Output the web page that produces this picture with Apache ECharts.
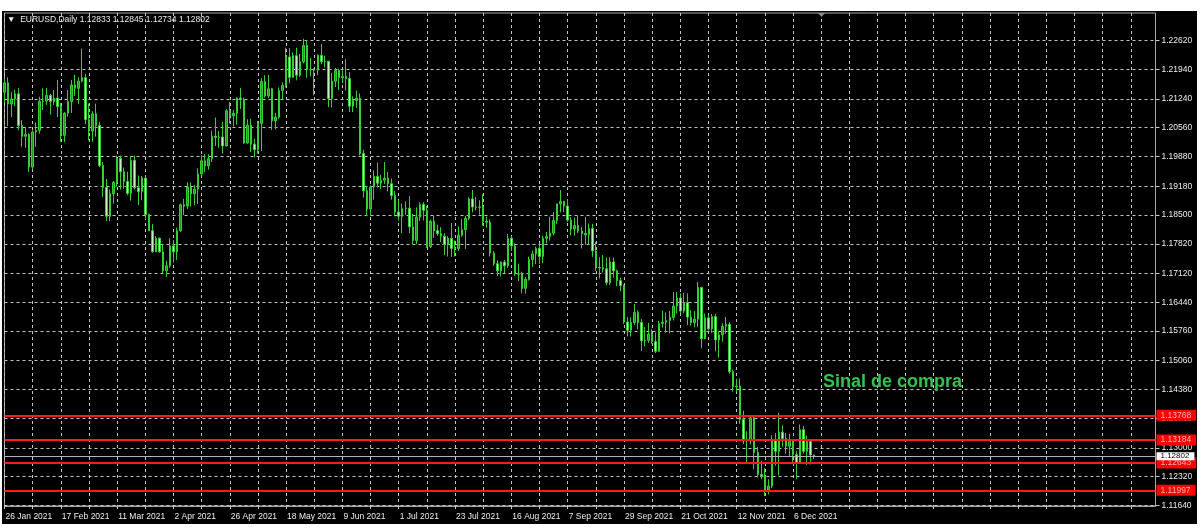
<!DOCTYPE html>
<html><head><meta charset="utf-8">
<script src="https://cdn.jsdelivr.net/npm/echarts@6.0.0/dist/echarts.min.js"></script>
<style>
html,body{margin:0;padding:0;background:#fff;width:1200px;height:532px;overflow:hidden}
#chart{position:absolute;left:2px;top:11px;width:1195px;height:513px;background:#000}
</style></head><body>
<div id="chart"></div>
<script>
// ---- data (daily EURUSD, [open, high, low, close]) ----
const jan = [
[1.2140,1.2171,1.2116,1.2162],[1.2162,1.2175,1.2060,1.2112],[1.2112,1.2140,1.2081,1.2124],[1.2124,1.2146,1.2107,1.2136]];
const feb = [
[1.2136,1.2150,1.2050,1.2061],[1.2061,1.2074,1.2011,1.2036],[1.2036,1.2058,1.2009,1.2040],[1.2040,1.2043,1.1952,1.1963],
[1.1963,1.2050,1.1957,1.2046],[1.2046,1.2068,1.2011,1.2050],[1.2050,1.2129,1.2042,1.2118],[1.2118,1.2149,1.2098,1.2119],
[1.2119,1.2150,1.2110,1.2132],[1.2132,1.2136,1.2087,1.2118],[1.2118,1.2145,1.2110,1.2126],[1.2126,1.2169,1.2081,1.2106],
[1.2106,1.2114,1.2023,1.2038],[1.2038,1.2093,1.2022,1.2090],[1.2090,1.2145,1.2082,1.2118],[1.2118,1.2169,1.2091,1.2157],
[1.2157,1.2181,1.2131,1.2149],[1.2149,1.2175,1.2112,1.2166],[1.2166,1.2243,1.2163,1.2174],[1.2174,1.2183,1.2064,1.2075]];
const mar = [
[1.2075,1.2113,1.2026,1.2048],[1.2048,1.2095,1.2023,1.2089],[1.2089,1.2113,1.2035,1.2061],[1.2061,1.2070,1.1963,1.1967],
[1.1967,1.1975,1.1893,1.1915],[1.1915,1.1935,1.1836,1.1847],[1.1847,1.1910,1.1835,1.1900],[1.1900,1.1930,1.1877,1.1927],
[1.1927,1.1990,1.1917,1.1984],[1.1984,1.1990,1.1910,1.1952],[1.1952,1.1962,1.1912,1.1929],[1.1929,1.1952,1.1897,1.1901],
[1.1901,1.1989,1.1884,1.1979],[1.1979,1.1990,1.1910,1.1914],[1.1914,1.1943,1.1873,1.1905],[1.1905,1.1942,1.1885,1.1937],
[1.1937,1.1940,1.1838,1.1851],[1.1851,1.1853,1.1812,1.1813],[1.1813,1.1829,1.1761,1.1763],[1.1763,1.1800,1.1762,1.1795],
[1.1795,1.1797,1.1761,1.1763],[1.1763,1.1781,1.1712,1.1718],[1.1718,1.1742,1.1704,1.1730]];
const apr = [
[1.1730,1.1795,1.1726,1.1777],[1.1777,1.1791,1.1738,1.1763],[1.1763,1.1820,1.1744,1.1813],[1.1813,1.1877,1.1810,1.1874],
[1.1874,1.1888,1.1850,1.1871],[1.1871,1.1927,1.1864,1.1916],[1.1916,1.1927,1.1870,1.1900],[1.1900,1.1920,1.1873,1.1911],
[1.1911,1.1960,1.1876,1.1947],[1.1947,1.1991,1.1945,1.1978],[1.1978,1.1994,1.1951,1.1966],[1.1966,1.1993,1.1957,1.1983],
[1.1983,1.2049,1.1975,1.2036],[1.2036,1.2080,1.2013,1.2033],[1.2033,1.2048,1.2009,1.2034],[1.2034,1.2070,1.1995,1.2013],
[1.2013,1.2100,1.2012,1.2096],[1.2096,1.2117,1.2066,1.2084],[1.2084,1.2098,1.2059,1.2090],[1.2090,1.2128,1.2063,1.2126],
[1.2126,1.2150,1.2100,1.2123],[1.2123,1.2127,1.2018,1.2020]];
const may = [
[1.2020,1.2076,1.2018,1.2062],[1.2062,1.2077,1.1999,1.2017],[1.2017,1.2030,1.1986,1.2004],[1.2004,1.2072,1.1995,1.2066],
[1.2066,1.2173,1.2001,1.2165],[1.2165,1.2180,1.2127,1.2131],[1.2131,1.2181,1.2126,1.2148],[1.2148,1.2150,1.2051,1.2072],
[1.2072,1.2091,1.2052,1.2081],[1.2081,1.2151,1.2077,1.2144],[1.2144,1.2163,1.2123,1.2156],[1.2156,1.2245,1.2151,1.2223],
[1.2223,1.2244,1.2161,1.2175],[1.2175,1.2234,1.2175,1.2226],[1.2226,1.2245,1.2168,1.2180],[1.2180,1.2230,1.2176,1.2212],
[1.2212,1.2266,1.2208,1.2250],[1.2250,1.2263,1.2174,1.2193],[1.2193,1.2221,1.2177,1.2193],[1.2193,1.2196,1.2133,1.2192],
[1.2192,1.2229,1.2180,1.2227]];
const jun = [
[1.2227,1.2254,1.2206,1.2212],[1.2212,1.2226,1.2198,1.2213],[1.2213,1.2214,1.2105,1.2125],[1.2125,1.2185,1.2104,1.2166],
[1.2166,1.2197,1.2152,1.2191],[1.2191,1.2195,1.2145,1.2174],[1.2174,1.2192,1.2161,1.2177],[1.2177,1.2218,1.2144,1.2172],
[1.2172,1.2187,1.2093,1.2107],[1.2107,1.2130,1.2093,1.2120],[1.2120,1.2144,1.2103,1.2126],[1.2126,1.2137,1.1991,1.1995],
[1.1995,1.2004,1.1891,1.1907],[1.1907,1.1918,1.1847,1.1864],[1.1864,1.1920,1.1849,1.1916],[1.1916,1.1955,1.1886,1.1941],
[1.1941,1.1974,1.1915,1.1925],[1.1925,1.1945,1.1911,1.1932],[1.1932,1.1975,1.1923,1.1937],[1.1937,1.1952,1.1906,1.1924],
[1.1924,1.1936,1.1886,1.1896],[1.1896,1.1907,1.1847,1.1857]];
const jul = [
[1.1857,1.1885,1.1837,1.1847],[1.1847,1.1877,1.1807,1.1865],[1.1865,1.1882,1.1851,1.1866],[1.1866,1.1895,1.1807,1.1822],
[1.1822,1.1852,1.1781,1.1790],[1.1790,1.1868,1.1781,1.1845],[1.1845,1.1880,1.1836,1.1875],[1.1875,1.1880,1.1837,1.1861],
[1.1861,1.1871,1.1772,1.1775],[1.1775,1.1839,1.1772,1.1835],[1.1835,1.1848,1.1796,1.1813],[1.1813,1.1827,1.1801,1.1806],
[1.1806,1.1821,1.1786,1.1800],[1.1800,1.1807,1.1755,1.1780],[1.1780,1.1800,1.1752,1.1795],[1.1795,1.1831,1.1751,1.1771],
[1.1771,1.1790,1.1752,1.1771],[1.1771,1.1823,1.1765,1.1802],[1.1802,1.1840,1.1799,1.1815],[1.1815,1.1848,1.1770,1.1842],
[1.1842,1.1892,1.1838,1.1888],[1.1888,1.1909,1.1856,1.1869]];
const aug = [
[1.1869,1.1892,1.1861,1.1868],[1.1868,1.1885,1.1851,1.1869],[1.1869,1.1899,1.1825,1.1835],[1.1835,1.1846,1.1820,1.1833],
[1.1833,1.1840,1.1752,1.1760],[1.1760,1.1765,1.1730,1.1735],[1.1735,1.1743,1.1706,1.1718],[1.1718,1.1740,1.1705,1.1739],
[1.1739,1.1744,1.1713,1.1730],[1.1730,1.1805,1.1725,1.1795],[1.1795,1.1800,1.1765,1.1777],[1.1777,1.1783,1.1706,1.1711],
[1.1711,1.1735,1.1694,1.1710],[1.1710,1.1716,1.1665,1.1677],[1.1677,1.1703,1.1664,1.1698],[1.1698,1.1752,1.1695,1.1745],
[1.1745,1.1766,1.1727,1.1758],[1.1758,1.1775,1.1734,1.1771],[1.1771,1.1783,1.1734,1.1752],[1.1752,1.1801,1.1736,1.1795],
[1.1795,1.1810,1.1783,1.1799],[1.1799,1.1846,1.1790,1.1807]];
const sep = [
[1.1807,1.1857,1.1802,1.1837],[1.1837,1.1877,1.1829,1.1876],[1.1876,1.1909,1.1856,1.1882],[1.1882,1.1883,1.1857,1.1871],
[1.1871,1.1887,1.1834,1.1838],[1.1838,1.1845,1.1802,1.1817],[1.1817,1.1844,1.1801,1.1825],[1.1825,1.1848,1.1807,1.1812],
[1.1812,1.1822,1.1771,1.1806],[1.1806,1.1845,1.1780,1.1803],[1.1803,1.1830,1.1780,1.1818],[1.1818,1.1829,1.1751,1.1765],
[1.1765,1.1786,1.1718,1.1725],[1.1725,1.1750,1.1700,1.1726],[1.1726,1.1755,1.1714,1.1723],[1.1723,1.1749,1.1684,1.1690],
[1.1690,1.1750,1.1685,1.1739],[1.1739,1.1749,1.1702,1.1718],[1.1718,1.1721,1.1682,1.1695],[1.1695,1.1702,1.1670,1.1683],
[1.1683,1.1686,1.1593,1.1597],[1.1597,1.1609,1.1563,1.1578]];
const oct = [
[1.1578,1.1608,1.1563,1.1596],[1.1596,1.1640,1.1590,1.1620],[1.1620,1.1625,1.1580,1.1596],[1.1596,1.1604,1.1529,1.1553],
[1.1553,1.1585,1.1540,1.1554],[1.1554,1.1595,1.1548,1.1569],[1.1569,1.1580,1.1546,1.1551],[1.1551,1.1572,1.1524,1.1528],
[1.1528,1.1600,1.1528,1.1594],[1.1594,1.1624,1.1584,1.1597],[1.1597,1.1620,1.1572,1.1601],[1.1601,1.1623,1.1571,1.1608],
[1.1608,1.1668,1.1601,1.1635],[1.1635,1.1668,1.1617,1.1654],[1.1654,1.1665,1.1618,1.1623],[1.1623,1.1666,1.1618,1.1643],
[1.1643,1.1665,1.1590,1.1609],[1.1609,1.1625,1.1589,1.1596],[1.1596,1.1623,1.1585,1.1604],[1.1604,1.1692,1.1586,1.1679],
[1.1679,1.1680,1.1535,1.1558]];
const nov = [
[1.1558,1.1617,1.1560,1.1607],[1.1607,1.1614,1.1577,1.1581],[1.1581,1.1616,1.1571,1.1610],[1.1610,1.1617,1.1528,1.1555],
[1.1555,1.1575,1.1513,1.1567],[1.1567,1.1594,1.1551,1.1587],[1.1587,1.1609,1.1570,1.1592],[1.1592,1.1597,1.1475,1.1480],
[1.1480,1.1485,1.1433,1.1444],[1.1444,1.1463,1.1432,1.1446],[1.1446,1.1464,1.1357,1.1367],[1.1367,1.1388,1.1309,1.1320],
[1.1320,1.1339,1.1264,1.1319],[1.1319,1.1374,1.1308,1.1371],[1.1371,1.1374,1.1250,1.1289],[1.1289,1.1302,1.1230,1.1237],
[1.1237,1.1270,1.1226,1.1233],[1.1233,1.1252,1.1186,1.1198],[1.1198,1.1226,1.1190,1.1210],[1.1210,1.1330,1.1205,1.1317],
[1.1317,1.1335,1.1258,1.1292],[1.1292,1.1383,1.1235,1.1337]];
const dec = [
[1.1337,1.1353,1.1303,1.1322],[1.1322,1.1335,1.1286,1.1304],[1.1304,1.1333,1.1280,1.1315],[1.1315,1.1319,1.1263,1.1284],
[1.1284,1.1293,1.1227,1.1264],[1.1264,1.1355,1.1262,1.1343],[1.1343,1.1352,1.1287,1.1292],[1.1292,1.1329,1.1260,1.1315],
[1.1315,1.1318,1.1261,1.12833],[1.12833,1.12845,1.12734,1.12802]];

const firstDate = [2021, 0, 26];        // first daily bar
const emptySlots = 97;                  // chart shift (future) bars on the right
const tickLabels = ['1.11640','1.12320','1.13000','1.13700','1.14380','1.15060','1.15760','1.16440','1.17120',
  '1.17820','1.18500','1.19180','1.19880','1.20560','1.21240','1.21940','1.22620'];
const dateLabels = ['26 Jan 2021','17 Feb 2021','11 Mar 2021','2 Apr 2021','26 Apr 2021','18 May 2021','9 Jun 2021',
  '1 Jul 2021','23 Jul 2021','16 Aug 2021','7 Sep 2021','29 Sep 2021','21 Oct 2021','12 Nov 2021','6 Dec 2021'];
const levels = [1.13768, 1.13184, 1.12643, 1.11997];
const bidPrice = 1.12802;
const header = ['EURUSD,Daily', '1.12833', '1.12845', '1.12734', '1.12802'];
const signalText = 'Sinal de compra';

// ---- build ----
const bars = [].concat(jan, feb, mar, apr, may, jun, jul, aug, sep, oct, nov, dec);
const candleData = bars.map(b => [b[0], b[3], b[2], b[1]]); // open, close, low, high
const categories = [];
{
  const d = new Date(Date.UTC(firstDate[0], firstDate[1], firstDate[2]));
  const total = bars.length + emptySlots;
  while (categories.length < total) {
    const wd = d.getUTCDay();
    if (wd !== 0 && wd !== 6) categories.push(d.toISOString().slice(0, 10));
    d.setUTCDate(d.getUTCDate() + 1);
  }
}
const tickValues = tickLabels.map(Number);
const font = 'Liberation Sans, Arial, sans-serif';
const gridColor = '#c4c4c4';
const textColor = '#ececec';

const chart = echarts.init(document.getElementById('chart'), null, {renderer: 'canvas'});
chart.setOption({
  animation: false,
  backgroundColor: '#000',
  title: [
    {text: '\u25BC  ' + header.join(' '), left: 5, top: 4, padding: 0,
     textStyle: {color: textColor, fontSize: 8.5, fontWeight: 'normal', fontFamily: font}},
    {text: signalText, left: 821, top: 362, padding: 0,
     textStyle: {color: '#33c24f', fontSize: 18, fontWeight: 'bold', fontFamily: font}}
  ],
  grid: {left: 2.5, top: 2, width: 1151, height: 493, show: true, borderColor: '#a8a8a8', borderWidth: 1,
         backgroundColor: 'transparent'},
  xAxis: {
    type: 'category', data: categories, boundaryGap: false,
    axisLine: {show: true, lineStyle: {color: '#a8a8a8'}},
    axisTick: {show: true, interval: 7, length: 3, lineStyle: {color: '#c8c8c8'}},
    axisLabel: {
      interval: 15, align: 'left', margin: 6, color: textColor, fontSize: 8.5, fontFamily: font, padding: [0, 0, 0, 1],
      formatter: (v, idx) => (idx % 16 === 0 && idx / 16 < dateLabels.length) ? dateLabels[idx / 16] : ''
    },
    splitLine: {show: true, interval: 7, lineStyle: {color: gridColor, type: [3, 3], width: 1}}
  },
  yAxis: {
    type: 'value', position: 'right', scale: true, min: 1.11628, max: 1.23269,
    axisLine: {show: false},
    axisTick: {show: true, length: 4, customValues: tickValues, lineStyle: {color: '#c8c8c8'}},
    axisLabel: {customValues: tickValues, margin: 6, color: textColor, fontSize: 8.5, fontFamily: font,
                formatter: v => v.toFixed(5)},
    splitLine: {show: true, lineStyle: {color: gridColor, type: [3, 3], width: 1}}
  },
  series: [{
    type: 'candlestick', data: candleData, barWidth: 2, clip: false,
    itemStyle: {color: '#1f9a1f', color0: '#c2f5c2', borderColor: '#35d035', borderColor0: '#35d035', borderWidth: 1},
    markLine: {
      silent: true, symbol: ['none', 'none'], animation: false, precision: 5,
      data: levels.map(v => ({
        yAxis: v,
        lineStyle: {color: '#ff1a1a', width: 2, type: 'solid'},
        label: {show: true, position: 'end', distance: 1, formatter: p => Number(p.value).toFixed(5),
                backgroundColor: '#ff0000', color: '#ffb4b4', fontSize: 8.5, fontFamily: font, padding: [1, 5, 1, 4]}
      })).concat([{
        yAxis: bidPrice,
        lineStyle: {color: '#b4b4b4', width: 1, type: 'solid'},
        label: {show: true, position: 'end', distance: 1, formatter: p => Number(p.value).toFixed(5),
                backgroundColor: '#ffffff', color: '#000000', fontSize: 8, fontFamily: font, padding: [0, 5, 0, 4]}
      }])
    }
  }],
  graphic: [{
    type: 'polygon', shape: {points: [[816, 2], [823, 2], [819.5, 6]]}, style: {fill: '#8c8c8c'}, z: 10
  }]
});
</script>
</body></html>
